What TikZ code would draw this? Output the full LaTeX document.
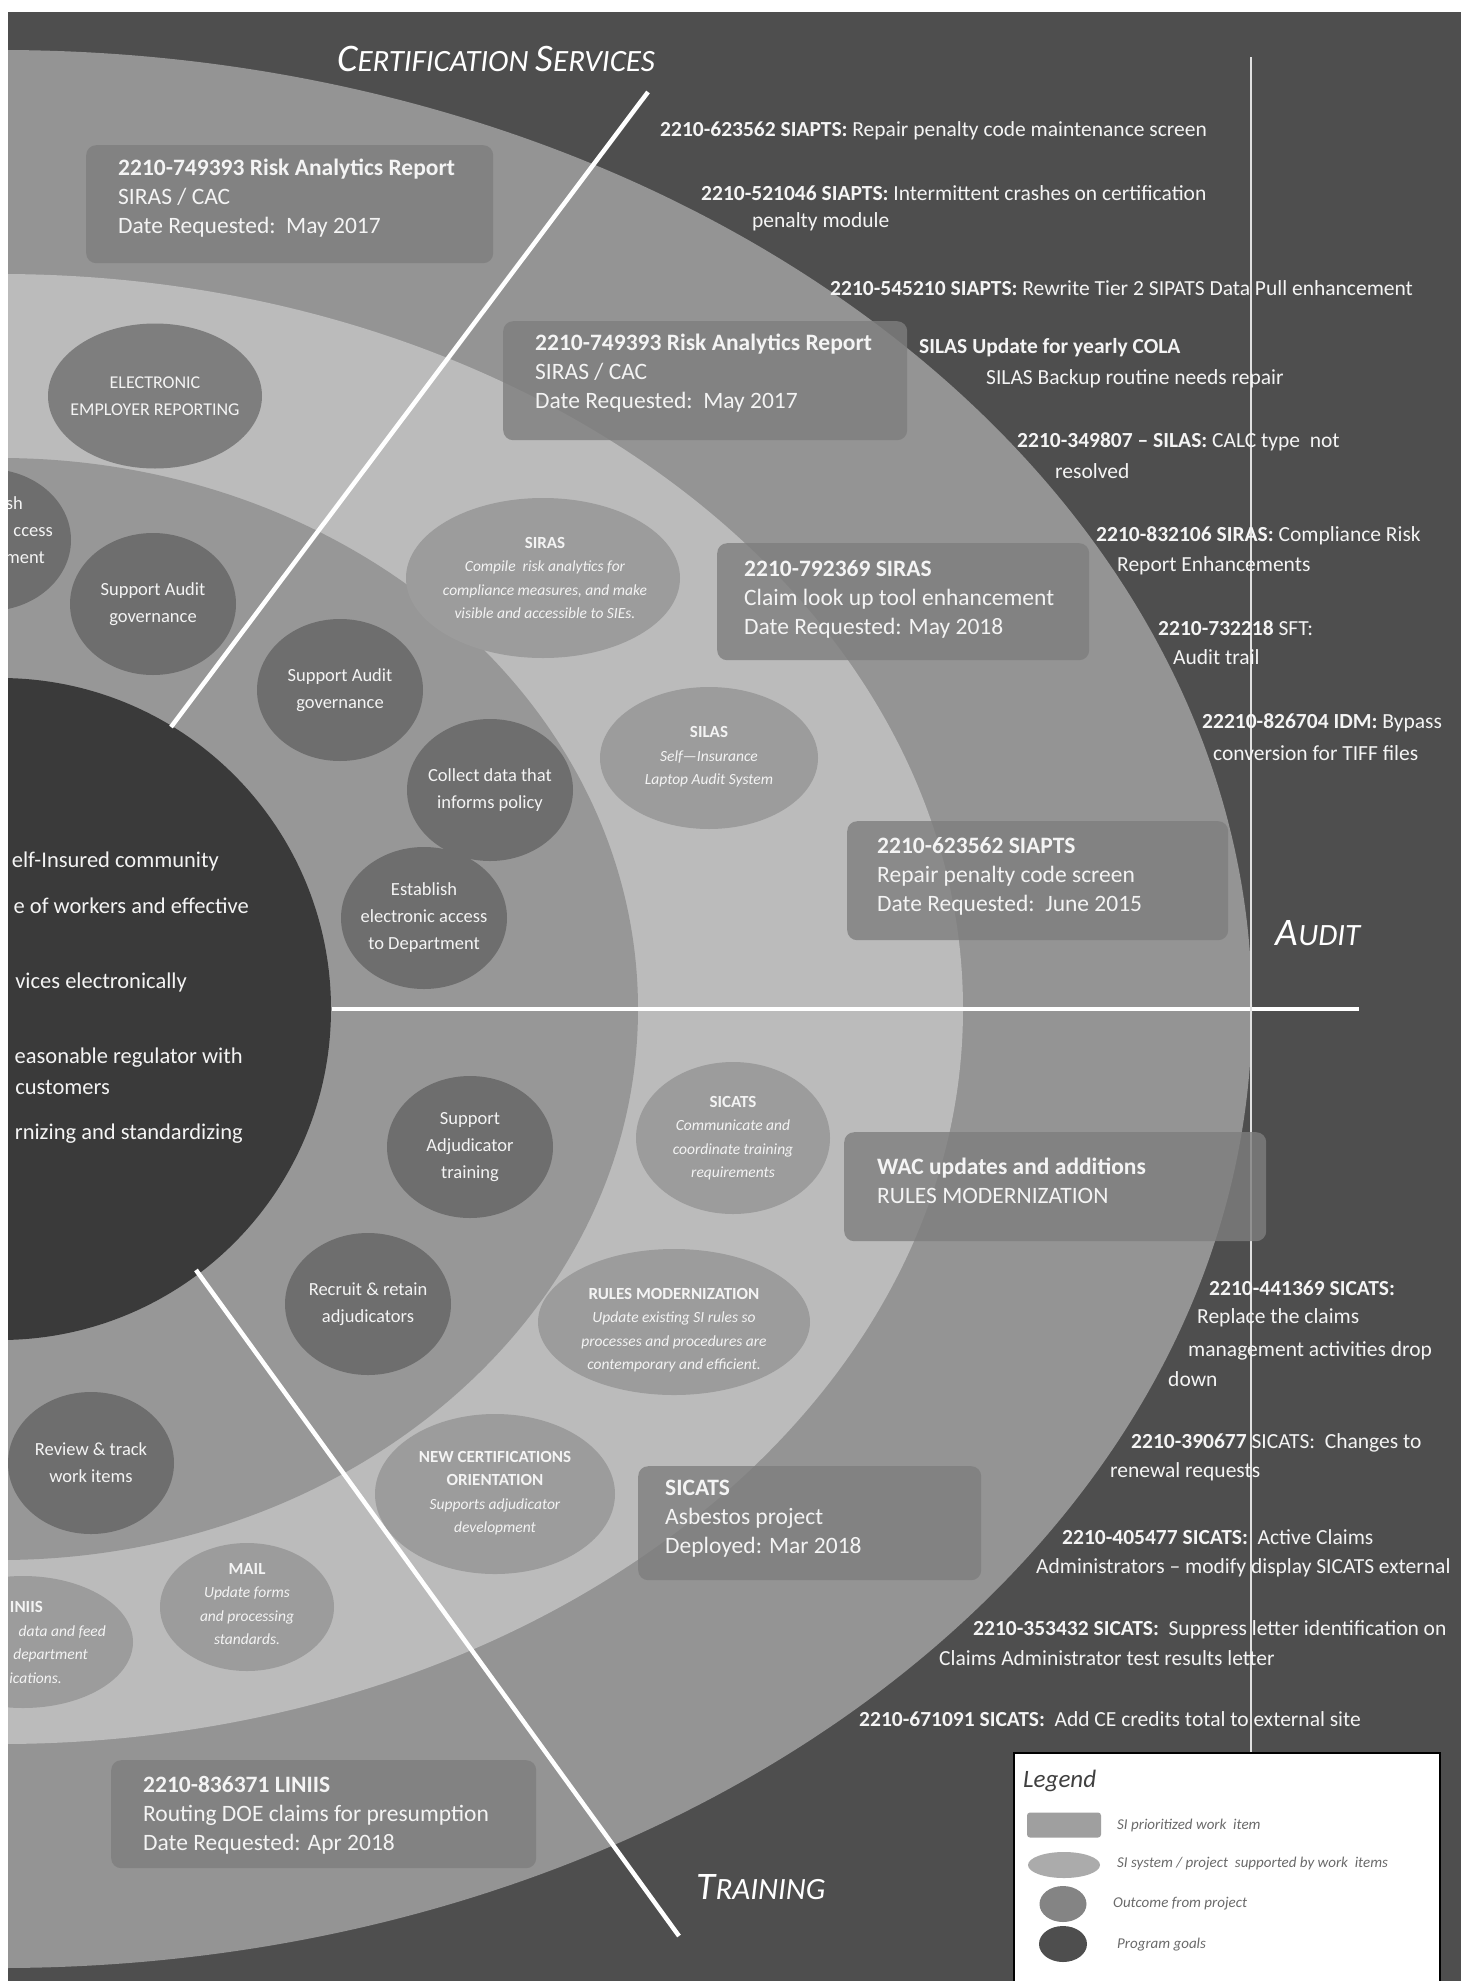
\documentclass[tikz,border=0pt]{standalone}
\usepackage{fontspec}
\setmainfont{Carlito}
\usetikzlibrary{shapes.geometric}
\newcommand\fsz[2]{\fontsize{#1}{#2}\selectfont}
\definecolor{bgc}{HTML}{4E4E4E}
\definecolor{ringA}{HTML}{949494}
\definecolor{ringB}{HTML}{BBBBBB}
\definecolor{ringC}{HTML}{979797}
\definecolor{goalc}{HTML}{3A3A3A}
\definecolor{outc}{HTML}{6E6E6E}
\definecolor{sysc}{HTML}{9C9C9C}
\definecolor{elec}{HTML}{7E7E7E}
\definecolor{boxc}{HTML}{7E7E7E}
\definecolor{txtw}{HTML}{F4F4F4}
\definecolor{legtxt}{HTML}{6A6A6A}
\begin{document}
\begin{tikzpicture}[x=1pt,y=-1pt,
  outcome/.style={ellipse, fill=outc, minimum width=166pt, minimum height=142pt, inner sep=0},
  otext/.style={text=txtw, align=center, inner sep=0, font=\fsz{18.5}{27}},
  sysell/.style={ellipse, fill=sysc, inner sep=0},
  stext/.style={text=txtw, align=center, inner sep=0, font=\fsz{15.5}{23.5}\itshape},
  wbox/.style={rounded corners=10pt, fill=boxc, fill opacity=0.8, anchor=north west, inner sep=0},
  wtext/.style={text=txtw, align=left, anchor=west, inner sep=0, font=\fsz{23.5}{29}},
  item/.style={text=txtw, anchor=west, inner sep=0, font=\fsz{21.5}{29}},
  goal/.style={text=txtw, anchor=east, inner sep=0, font=\fsz{22.5}{29}},
  sect/.style={text=white, inner sep=0, font=\itshape},
  wline/.style={white, line width=4.5pt},
  legitem/.style={text=legtxt, anchor=west, inner sep=0, font=\fsz{15}{18}\itshape}
]
\useasboundingbox (0,0) rectangle (1461,1981);
\begin{scope}
\clip (8,12) rectangle (1461,1981);
\fill[bgc] (8,12) rectangle (1461,1981);
% rings
\fill[ringA] (0,1009) ellipse [x radius=1252pt, y radius=959pt];
\fill[ringB] (0,1009) ellipse [x radius=963pt, y radius=735pt];
\fill[ringC] (0,1009) ellipse [x radius=638pt, y radius=551pt];
\fill[goalc] (0,1009) circle [radius=331pt];

% separator lines
\coordinate (d1a) at (171,727); \coordinate (d1b) at (648,92);
\coordinate (d2a) at (196,1270); \coordinate (d2b) at (679,1936);
\coordinate (h1a) at (332,1009); \coordinate (h1b) at (1359,1009);
\coordinate (v1a) at (1251,57); \coordinate (v1b) at (1251,1752);
\draw[wline] (d1a) -- (d1b);
\draw[wline] (d2a) -- (d2b);
\draw[wline] (h1a) -- (h1b);
\draw[white!88!black, line width=1.5pt] (v1a) -- (v1b);

% program goals text
\node[goal] (g1) at (219,861) {elf-Insured community};
\node[goal] (g2) at (249,906) {e of workers and effective};
\node[goal] (g3) at (187,982) {vices electronically};
\node[goal] (g4) at (243,1058) {easonable regulator with};
\node[goal] (g5) at (110,1087) {customers};
\node[goal] (g6) at (243,1134) {rnizing and standardizing};

% outcome ellipses
\node[ellipse, fill=elec, minimum width=214pt, minimum height=145pt, inner sep=0] (ee) at (155,396) {};
\node[otext, font=\fsz{18}{27}] (eet) at (ee) {ELECTRONIC\\EMPLOYER REPORTING};
\node[outcome] (est0) at (-12,540) {};
\node[otext, anchor=east] (est0a) at (23,503) {sh};
\node[otext, anchor=east] (est0b) at (53,532) {ccess};
\node[otext, anchor=east] (est0c) at (45,558) {ment};
\node[outcome] (sa1) at (153,604) {};
\node[otext] (sa1t) at (sa1) {Support Audit\\governance};
\node[outcome] (sa2) at (340,690) {};
\node[otext] (sa2t) at (sa2) {Support Audit\\governance};
\node[outcome] (cd) at (490,790) {};
\node[otext] (cdt) at (cd) {Collect data that\\informs policy};
\node[outcome] (est) at (424,918) {};
\node[otext] (estt) at (est) {Establish\\electronic access\\to Department};
\node[outcome] (sat) at (470,1147) {};
\node[otext] (satt) at (sat) {Support\\Adjudicator\\training};
\node[outcome] (rr) at (368,1304) {};
\node[otext] (rrt) at (rr) {Recruit \& retain\\adjudicators};
\node[outcome] (rt) at (91,1463) {};
\node[otext] (rtt) at (rt) {Review \& track\\work items};

% system ellipses
\node[sysell, minimum width=274pt, minimum height=160pt] (siras) at (543,578) {};
\node[stext] (sirast) at (545,578) {{\upshape\bfseries\fsz{17}{23.5}SIRAS}\\Compile\ \ risk analytics for\\compliance measures, and make\\visible and accessible to SIEs.};
\node[sysell, minimum width=218pt, minimum height=142pt] (silas) at (709,758) {};
\node[stext] (silast) at (709,757) {{\upshape\bfseries\fsz{17}{23.5}SILAS}\\Self\textemdash Insurance\\Laptop Audit System};
\node[sysell, minimum width=194pt, minimum height=152pt] (sicats) at (733,1138) {};
\node[stext] (sicatst) at (733,1138) {{\upshape\bfseries\fsz{17}{23.5}SICATS}\\Communicate and\\coordinate training\\requirements};
\node[sysell, minimum width=272pt, minimum height=146pt] (rules) at (674,1322) {};
\node[stext] (rulest) at (674,1330) {{\upshape\bfseries\fsz{17}{23.5}RULES MODERNIZATION}\\Update existing SI rules so\\processes and procedures are\\contemporary and efficient.};
\node[sysell, minimum width=240pt, minimum height=160pt] (ncert) at (495,1494) {};
\node[stext] (ncertt) at (495,1493) {{\upshape\bfseries\fsz{17}{26}NEW CERTIFICATIONS}\\{\upshape\bfseries\fsz{17}{26}ORIENTATION}\\Supports adjudicator\\development};
\node[sysell, minimum width=174pt, minimum height=128pt] (mail) at (247,1607) {};
\node[stext] (mailt) at (247,1604) {{\upshape\bfseries\fsz{17}{23.5}MAIL}\\Update forms\\and processing\\standards.};
\node[sysell, minimum width=220pt, minimum height=132pt] (lin) at (23,1642) {};
\node[stext, anchor=east] (lina) at (43,1607) {\upshape\bfseries\fsz{17}{23.5}INIIS};
\node[stext, anchor=east] (linb) at (106,1632) {data and feed};
\node[stext, anchor=east] (linc) at (88,1655) {department};
\node[stext, anchor=east] (lind) at (62,1678) {ications.};

% work item boxes
\node[wbox, minimum width=407pt, minimum height=118pt] (w1) at (86,145) {};
\node[wtext] (w1t) at (118,198) {\textbf{2210-749393 Risk Analytics Report}\\SIRAS / CAC\\Date Requested:\ \ May 2017};
\node[wbox, minimum width=404pt, minimum height=119pt] (w2) at (503,321) {};
\node[wtext] (w2t) at (535,373) {\textbf{2210-749393 Risk Analytics Report}\\SIRAS / CAC\\Date Requested:\ \ May 2017};
\node[wbox, minimum width=372pt, minimum height=117pt] (w3) at (717,543) {};
\node[wtext] (w3t) at (744,599) {\textbf{2210-792369 SIRAS}\\Claim look up tool enhancement\\Date Requested: May 2018};
\node[wbox, minimum width=381pt, minimum height=119pt] (w4) at (847,821) {};
\node[wtext] (w4t) at (877,876) {\textbf{2210-623562 SIAPTS}\\Repair penalty code screen\\Date Requested:\ \ June 2015};
\node[wbox, minimum width=422pt, minimum height=109pt] (w5) at (844,1132) {};
\node[wtext] (w5t) at (877,1181) {\textbf{WAC updates and additions}\\RULES MODERNIZATION};
\node[wbox, minimum width=343pt, minimum height=114pt] (w6) at (638,1466) {};
\node[wtext] (w6t) at (665,1519) {\textbf{SICATS}\\Asbestos project\\Deployed: Mar 2018};
\node[wbox, minimum width=425pt, minimum height=108pt] (w7) at (111,1760) {};
\node[wtext] (w7t) at (143,1815) {\textbf{2210-836371 LINIIS}\\Routing DOE claims for presumption\\Date Requested: Apr 2018};

% right-side work items
\node[item] (i1) at (660,131) {\textbf{2210-623562 SIAPTS:} Repair penalty code maintenance screen};
\node[item] (i2a) at (701,193) {\textbf{2210-521046 SIAPTS:} Intermittent crashes on certification};
\node[item] (i2b) at (752,222) {penalty module};
\node[item] (i3) at (830,288) {\textbf{2210-545210 SIAPTS:} Rewrite Tier 2 SIPATS Data Pull enhancement};
\node[item] (i4) at (919,348) {\textbf{SILAS Update for yearly COLA}};
\node[item] (i5) at (986,379) {SILAS Backup routine needs repair};
\node[item] (i6a) at (1017,442) {\textbf{2210-349807 \textendash{} SILAS:} CALC type\ \ not};
\node[item] (i6b) at (1055,471) {resolved};
\node[item] (i7a) at (1096,536) {\textbf{2210-832106 SIRAS:} Compliance Risk};
\node[item] (i7b) at (1117,566) {Report Enhancements};
\node[item] (i8a) at (1158,628) {\textbf{2210-732218} SFT:};
\node[item] (i8b) at (1173,657) {Audit trail};
\node[item] (i9a) at (1202,723) {\textbf{22210-826704 IDM:} Bypass};
\node[item] (i9b) at (1213,753) {conversion for TIFF files};
\node[item] (i10a) at (1209,1288) {\textbf{2210-441369 SICATS:}};
\node[item] (i10b) at (1197,1318) {Replace the claims};
\node[item] (i10c) at (1188,1351) {management activities drop};
\node[item] (i10d) at (1168,1379) {down};
\node[item] (i11a) at (1131,1443) {\textbf{2210-390677} SICATS:\ \ Changes to};
\node[item] (i11b) at (1110,1472) {renewal requests};
\node[item] (i12a) at (1062,1537) {\textbf{2210-405477 SICATS:}\ \ Active Claims};
\node[item] (i12b) at (1036,1568) {Administrators \textendash{} modify display SICATS external};
\node[item] (i13a) at (973,1630) {\textbf{2210-353432 SICATS:}\ \ Suppress letter identification on};
\node[item] (i13b) at (939,1658) {Claims Administrator test results letter};
\node[item] (i14) at (859,1719) {\textbf{2210-671091 SICATS:}\ \ Add CE credits total to external site};

% section labels
\node[sect] (lcert) at (496,59) {\fsz{39}{39}C\fsz{31}{31}ERTIFICATION \fsz{39}{39}S\fsz{31}{31}ERVICES};
\node[sect] (laudit) at (1318,933) {\fsz{39}{39}A\fsz{31}{31}UDIT};
\node[sect] (ltrain) at (761,1887) {\fsz{39}{39}T\fsz{31}{31}RAINING};

% legend
\draw[black, line width=2.5pt, fill=white] (1014,1753) rectangle (1440,1995);
\node[text=black!75, anchor=west, inner sep=0, font=\fsz{25}{30}\itshape] (lgt) at (1023,1781) {Legend};
\node[fill=ringB!85!black, rounded corners=3pt, minimum width=74pt, minimum height=25pt, inner sep=0] (lg1) at (1064,1825) {};
\node[ellipse, fill=sysc!85!white, minimum width=72pt, minimum height=26pt, inner sep=0] (lg2) at (1064,1865) {};
\node[ellipse, fill=outc!85!white, minimum width=47pt, minimum height=36pt, inner sep=0] (lg3) at (1063,1904) {};
\node[ellipse, fill=bgc, minimum width=48pt, minimum height=36pt, inner sep=0] (lg4) at (1063,1944) {};
\node[legitem] (lg1t) at (1117,1825) {SI prioritized work\ \ item};
\node[legitem] (lg2t) at (1117,1864) {SI system / project\ \ supported by work\ \ items};
\node[legitem] (lg3t) at (1113,1904) {Outcome from project};
\node[legitem] (lg4t) at (1117,1945) {Program goals};
\end{scope}
\end{tikzpicture}
\end{document}
